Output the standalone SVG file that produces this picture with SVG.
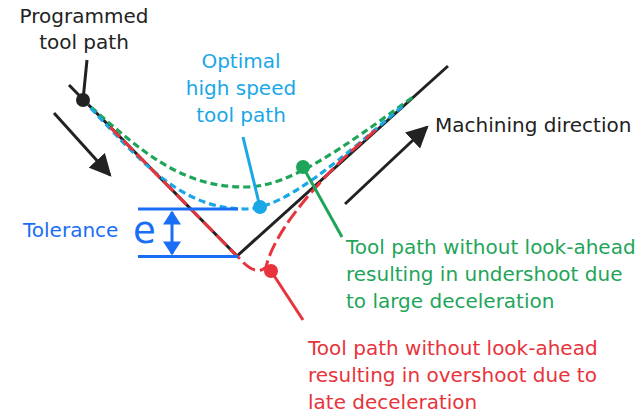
<svg xmlns="http://www.w3.org/2000/svg" width="644" height="416" viewBox="0 0 644 416">
<defs>
<style>
text{font-family:"DejaVu Sans","Open Sans",sans-serif;font-size:20px}
.blk{fill:#222}
.cy{fill:#1aa7e6}
.gr{fill:#1fa55a}
.rd{fill:#e8333c}
.tb{fill:#1a6ef5}
.ln{fill:none;stroke-linecap:butt}
</style>
<marker id="ah" viewBox="0 0 10 10" refX="9" refY="5" markerWidth="22" markerHeight="22" markerUnits="userSpaceOnUse" orient="auto"><path d="M0,0 L10,5 L0,10 Z" fill="#222"/></marker>
<marker id="bh" viewBox="0 0 10 13" refX="9" refY="6.5" markerWidth="14" markerHeight="18" markerUnits="userSpaceOnUse" orient="auto-start-reverse"><path d="M0,0 L10,6.5 L0,13 Z" fill="#1a6ef5"/></marker>
</defs>
<rect width="644" height="416" fill="#fff"/>
<g id="connectors">
<path id="programmed-path" class="ln" d="M69,85 L237,256 L448,66" stroke="#222" stroke-width="3"/>
<path id="green-path" class="ln" d="M83,100 C140,150 180,188 247,187 C290,186 340,150 413,97" stroke="#1fa55a" stroke-width="3.2" stroke-dasharray="7 4"/>
<path id="blue-path" class="ln" d="M83,100 C140,160 180,210 247,209 C285,208 340,160 405,104" stroke="#1aa7e6" stroke-width="3.2" stroke-dasharray="7 4"/>
<path id="red-path" class="ln" d="M110,127 L240,259 C248,268 258,275 266,267 C270,250 285,215 347,155 L378,128" stroke="#e8333c" stroke-width="3" stroke-dasharray="14 5"/>
<line x1="54" y1="113" x2="110" y2="175" stroke="#222" stroke-width="3" marker-end="url(#ah)"/>
<line x1="345" y1="204" x2="427" y2="127" stroke="#222" stroke-width="3" marker-end="url(#ah)"/>
<line x1="87" y1="60" x2="83" y2="100" stroke="#222" stroke-width="3"/>
<line x1="243" y1="137" x2="260" y2="207" stroke="#1aa7e6" stroke-width="3"/>
<line x1="303" y1="167" x2="342" y2="237" stroke="#1fa55a" stroke-width="3"/>
<line x1="271" y1="271" x2="303" y2="320" stroke="#e8333c" stroke-width="3"/>
</g>
<g id="tolerance">
<line x1="138" y1="209" x2="238" y2="209" stroke="#1a6ef5" stroke-width="3"/>
<line x1="138" y1="256.5" x2="238" y2="256.5" stroke="#1a6ef5" stroke-width="3"/>
<line x1="172" y1="212" x2="172" y2="254" stroke="#1a6ef5" stroke-width="3" marker-start="url(#bh)" marker-end="url(#bh)"/>
<text x="23" y="237" class="tb">Tolerance</text>
<text x="133" y="243" class="tb" style="font-size:37px">e</text>
</g>
<g id="programmed">
<circle cx="83" cy="100" r="7" fill="#222"/>
<text class="blk" text-anchor="middle"><tspan x="84" y="23">Programmed</tspan><tspan x="84" y="49">tool path</tspan></text>
</g>
<g id="optimal">
<circle cx="260" cy="207" r="7" fill="#1aa7e6"/>
<text class="cy" text-anchor="middle"><tspan x="241" y="68">Optimal</tspan><tspan x="241" y="95">high speed</tspan><tspan x="241" y="122">tool path</tspan></text>
</g>
<g id="undershoot">
<circle cx="303" cy="167" r="7" fill="#1fa55a"/>
<text class="gr"><tspan x="346" y="254">Tool path without look-ahead</tspan><tspan x="346" y="281">resulting in undershoot due</tspan><tspan x="346" y="308">to large deceleration</tspan></text>
</g>
<g id="overshoot">
<circle cx="271" cy="271" r="7" fill="#e8333c"/>
<text class="rd"><tspan x="308" y="355">Tool path without look-ahead</tspan><tspan x="308" y="382">resulting in overshoot due to</tspan><tspan x="308" y="409">late deceleration</tspan></text>
</g>
<g id="direction">
<text x="435" y="132" class="blk">Machining direction</text>
</g>
</svg>
